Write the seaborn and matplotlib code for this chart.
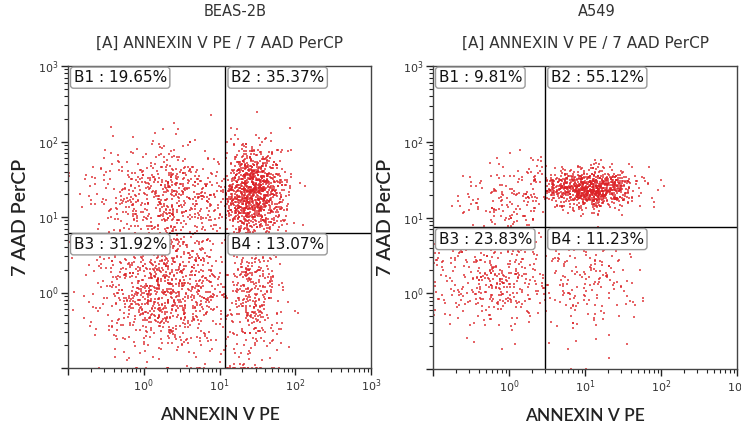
import numpy as np
import pandas as pd
import matplotlib
matplotlib.use("Agg")
import matplotlib.pyplot as plt
from matplotlib.ticker import LogLocator, FuncFormatter, NullFormatter
import seaborn as sns

# ---- panel definitions ----
samples = ["BEAS-2B", "A549"]
quadrants = ["B1", "B2", "B3", "B4"]
beas_pct = [19.65, 35.37, 31.92, 13.07]
a549_pct = [9.81, 55.12, 23.83, 11.23]
beas_events = 3000
a549_events = 1700
# quadrant gates (ANNEXIN V PE, 7 AAD PerCP)
beas_gate = [12.0, 6.2]
a549_gate = [3.0, 7.4]
# population centre (log10 x, log10 y) and spread (log10 sd x, sd y) per quadrant
beas_center = [(0.40, 1.25), (1.42, 1.30), (0.30, 0.10), (1.40, 0.05)]
beas_spread = [(0.55, 0.35), (0.22, 0.30), (0.50, 0.45), (0.22, 0.55)]
a549_center = [(0.10, 1.25), (1.05, 1.37), (-0.25, 0.30), (1.00, 0.20)]
a549_spread = [(0.40, 0.25), (0.30, 0.12), (0.45, 0.40), (0.35, 0.45)]

axis_min, axis_max = 0.1, 1000.0


def gated_events(pct, total, gate, centers, spreads, seed):
    rng = np.random.default_rng(seed)
    gx, gy = np.log10(gate)
    lo, hi = np.log10(axis_min), np.log10(axis_max)
    rows = []
    for q, p, c, s in zip(quadrants, pct, centers, spreads):
        n = int(round(p / 100 * total))
        xs, ys = [], []
        while len(xs) < n:
            x = rng.normal(c[0], s[0], 4 * n)
            y = rng.normal(c[1], s[1], 4 * n)
            right = q in ("B2", "B4")
            top = q in ("B1", "B2")
            ok = ((x >= gx) == right) & ((y >= gy) == top) & (x < hi) & (y < hi)
            xs.extend(x[ok]); ys.extend(y[ok])
        x = np.clip(np.array(xs[:n]), lo, hi)
        y = np.clip(np.array(ys[:n]), lo, hi)
        rows.append(pd.DataFrame({"x": 10 ** x, "y": 10 ** y, "gate": q}))
    return pd.concat(rows, ignore_index=True)


panels = [
    (samples[0], beas_pct, beas_events, beas_gate, beas_center, beas_spread, 7),
    (samples[1], a549_pct, a549_events, a549_gate, a549_center, a549_spread, 11),
]

sns.set_theme(style="white")
plt.rcParams["font.family"] = ["DejaVu Sans"]

fig = plt.figure(figsize=(7.41, 4.30), dpi=100)
ax_rects = [(68 / 741, 62 / 430, 303 / 741, 302 / 430),
            (433 / 741, 61 / 430, 304 / 741, 303 / 430)]
title_x = [235 / 741, 597 / 741]
label_font = dict(family=["Lato", "DejaVu Sans"], weight="semibold", color="#222222")


def tick_fmt(v, pos):
    e = int(round(np.log10(v)))
    if e < 0:
        return ""
    return r"$10^{%d}$" % e


for (name, pct, total, gate, centers, spreads, seed), rect, tx in zip(panels, ax_rects, title_x):
    ax = fig.add_axes(rect)
    df = gated_events(pct, total, gate, centers, spreads, seed)
    sns.scatterplot(data=df, x="x", y="y", ax=ax, s=1.8, marker="s",
                    color="#dc2226", alpha=0.7, linewidth=0, legend=False)
    ax.set_xscale("log")
    ax.set_yscale("log")
    ax.set_xlim(axis_min, axis_max)
    ax.set_ylim(axis_min, axis_max)

    ax.axvline(gate[0], color="black", lw=1)
    ax.axhline(gate[1], color="black", lw=1)

    for sp in ax.spines.values():
        sp.set_color("#444444")
        sp.set_linewidth(1)

    for axis in (ax.xaxis, ax.yaxis):
        axis.set_major_locator(LogLocator(base=10, numticks=10))
        axis.set_minor_locator(LogLocator(base=10, subs=np.arange(2, 10), numticks=10))
        axis.set_major_formatter(FuncFormatter(tick_fmt))
        axis.set_minor_formatter(NullFormatter())
    ax.tick_params(which="major", direction="out", length=5, width=1, color="#222222",
                   labelsize=8, labelcolor="#333333", bottom=True, left=True, pad=2)
    ax.tick_params(which="minor", direction="out", length=3, width=0.8, color="#222222",
                   bottom=True, left=True)

    ax.set_xlabel("ANNEXIN V PE", labelpad=9, size=12.5, **label_font)
    ax.set_ylabel("7 AAD PerCP", labelpad=6, size=14, **label_font)

    # quadrant labels anchored at each quadrant's top-left corner
    corners = [(axis_min, axis_max), (gate[0], axis_max),
               (axis_min, gate[1]), (gate[0], gate[1])]
    for q, p, (cx, cy) in zip(quadrants, pct, corners):
        ax.annotate(f"{q} : {p:.2f}%", xy=(cx, cy), xytext=(4, -3),
                    textcoords="offset points", ha="left", va="top",
                    fontsize=11, color="#111111",
                    bbox=dict(boxstyle="round,pad=0.2", fc="white", ec="#9a9a9a", lw=1),
                    zorder=5)

    fig.text(tx, 1 - 12 / 430, name, ha="center", va="center", fontsize=10.5, color="#333333")
    fig.text(rect[0] + rect[2] / 2, 1 - 43 / 430, "[A] ANNEXIN V PE / 7 AAD PerCP",
             ha="center", va="center", fontsize=11, color="#333333")

fig.savefig("out.png", dpi=100)
